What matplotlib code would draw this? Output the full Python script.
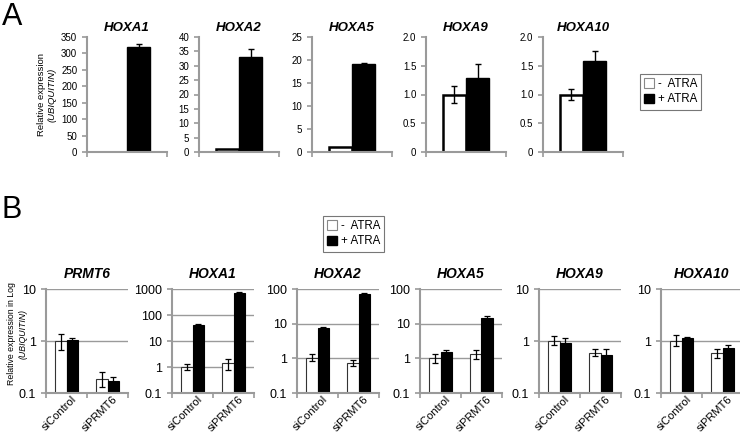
import numpy as np
import matplotlib.pyplot as plt
from matplotlib.patches import Patch
from matplotlib.ticker import FixedLocator, NullLocator

plt.rcParams['font.family'] = ['Liberation Sans', 'DejaVu Sans']

# panel A: relative expression, linear scale
genes_a = ['HOXA1', 'HOXA2', 'HOXA5', 'HOXA9', 'HOXA10']
minus_a = [1.0, 1.0, 1.0, 1.0, 1.0]
minus_a_err = [0.0, 0.0, 0.0, 0.15, 0.1]
plus_a = [321, 32.9, 19.1, 1.29, 1.58]
plus_a_err = [9, 2.8, 0.15, 0.24, 0.18]
ymax_a = [350, 40, 25, 2.0, 2.0]
ystep_a = [50, 5, 5, 0.5, 0.5]

# panel B: log scale, siControl / siPRMT6
genes_b = ['PRMT6', 'HOXA1', 'HOXA2', 'HOXA5', 'HOXA9', 'HOXA10']
conditions = ['siControl', 'siPRMT6']
minus_b = [[1.0, 0.19], [1.0, 1.39], [1.04, 0.72], [1.0, 1.33], [1.0, 0.6], [1.0, 0.58]]
minus_b_lo = [[0.67, 0.13], [0.8, 0.8], [0.84, 0.59], [0.75, 0.94], [0.84, 0.51], [0.8, 0.48]]
minus_b_hi = [[1.35, 0.25], [1.3, 2.0], [1.3, 0.88], [1.35, 1.73], [1.25, 0.69], [1.32, 0.71]]
plus_b = [[1.06, 0.17], [41, 720], [7.3, 71], [1.55, 14.8], [0.92, 0.55], [1.13, 0.74]]
plus_b_lo = [[0.98, 0.15], [38, 690], [6.5, 65], [1.38, 13.3], [0.78, 0.44], [1.05, 0.66]]
plus_b_hi = [[1.16, 0.2], [44, 750], [8.2, 78], [1.75, 16.5], [1.13, 0.69], [1.2, 0.83]]
ymax_b = [10, 1000, 100, 100, 10, 10]

W, H = 740, 434
fig = plt.figure(figsize=(W / 100, H / 100), dpi=100)
GRAY = '#9a9a9a'


def add_ax(left, top, w, h):
    return fig.add_axes([left / W, 1 - (top + h) / H, w / W, h / H])


def style(ax):
    for s in ['top', 'right']:
        ax.spines[s].set_visible(False)
    for s in ['left', 'bottom']:
        ax.spines[s].set_color(GRAY)
        ax.spines[s].set_linewidth(1.5)
    ax.tick_params(color=GRAY, width=1.2, length=3.5, direction='out')


def fmt_a(v):
    if v == 0:
        return '0'
    return f'{v:.1f}' if v < 5 else f'{v:g}'


# ---- panel A ----
lefts_a = [87, 199, 312, 426, 543]
bw = 0.29
for i, g in enumerate(genes_a):
    ax = add_ax(lefts_a[i], 37, 80, 115)
    style(ax)
    ax.bar(0.5 - bw / 2, minus_a[i], bw, color='white', edgecolor='black', lw=1.8,
           yerr=minus_a_err[i] if minus_a_err[i] else None,
           error_kw=dict(ecolor='black', elinewidth=1, capsize=2.5, capthick=1))
    ax.bar(0.5 + bw / 2, plus_a[i], bw, color='black', edgecolor='black', lw=1,
           yerr=plus_a_err[i],
           error_kw=dict(ecolor='black', elinewidth=1, capsize=2.5, capthick=1))
    ax.set_xlim(0, 1)
    ax.set_ylim(0, ymax_a[i])
    ticks = np.arange(0, ymax_a[i] + ystep_a[i] / 2, ystep_a[i])
    ax.yaxis.set_major_locator(FixedLocator(ticks))
    ax.set_yticklabels([fmt_a(t) for t in ticks], fontsize=7)
    ax.xaxis.set_major_locator(FixedLocator([0, 1]))
    ax.set_xticklabels([])
    ax.set_title(g, fontsize=9.5, fontweight='bold', fontstyle='italic', pad=4)

fig.text(2 / W, 1 - 2 / H, 'A', fontsize=22, va='top', ha='left')
fig.text(41 / W, 1 - 95 / H, 'Relative expression', rotation=90, fontsize=6.8,
         ha='center', va='center')
fig.text(52 / W, 1 - 95 / H, '(UBIQUITIN)', rotation=90, fontsize=6.8,
         ha='center', va='center', fontstyle='italic')

handles = [Patch(facecolor='white', edgecolor='#888888', lw=0.8),
           Patch(facecolor='black', edgecolor='black')]
leg_kw = dict(loc='upper left', frameon=True, fancybox=False, fontsize=8.3,
              borderpad=0.35, handlelength=0.9, handleheight=0.9,
              handletextpad=0.3, labelspacing=0.3, borderaxespad=0)
lg = fig.legend(handles, ['-  ATRA', '+ ATRA'],
                bbox_to_anchor=(640 / W, 1 - 74 / H), **leg_kw)
lg.get_frame().set_edgecolor('#555555')
lg.get_frame().set_linewidth(0.8)

# ---- panel B ----
lefts_b = [46, 172, 297, 420, 539, 661]
x = np.arange(len(conditions)) + 0.5
for i, g in enumerate(genes_b):
    ax = add_ax(lefts_b[i], 289, 82, 104)
    style(ax)
    ax.set_yscale('log')
    ax.set_ylim(0.1, ymax_b[i])
    ax.set_xlim(0, 2)
    decades = [10.0 ** k for k in range(-1, int(np.log10(ymax_b[i])) + 1)]
    ax.yaxis.set_major_locator(FixedLocator(decades))
    ax.yaxis.set_minor_locator(NullLocator())
    ax.set_yticklabels([f'{d:g}' for d in decades], fontsize=9)
    ax.grid(axis='y', color=GRAY, lw=1)
    ax.set_axisbelow(True)
    m = np.array(minus_b[i])
    p = np.array(plus_b[i])
    m_err = [m - np.array(minus_b_lo[i]), np.array(minus_b_hi[i]) - m]
    p_err = [p - np.array(plus_b_lo[i]), np.array(plus_b_hi[i]) - p]
    ekw = dict(ecolor='black', elinewidth=0.9, capsize=2.2, capthick=0.9)
    ax.bar(x - bw / 2, m, bw, color='white', edgecolor='#333333', lw=0.8,
           yerr=m_err, error_kw=ekw)
    ax.bar(x + bw / 2, p, bw, color='black', edgecolor='black', lw=0.8,
           yerr=p_err, error_kw=ekw)
    ax.xaxis.set_major_locator(FixedLocator([0, 1, 2]))
    ax.set_xticklabels([])
    for xi, c in zip(x, conditions):
        ax.annotate(c, (xi, 0), xycoords=('data', 'axes fraction'),
                    xytext=(6, -3.5), textcoords='offset points',
                    rotation=45, ha='right', va='center', rotation_mode='anchor',
                    fontsize=8)
    ax.set_title(g, fontsize=10, fontweight='bold', fontstyle='italic', pad=8)

fig.text(2 / W, 1 - 195 / H, 'B', fontsize=22, va='top', ha='left')
fig.text(12 / W, 1 - 334 / H, 'Relative expression in Log', rotation=90,
         fontsize=6.3, ha='center', va='center')
fig.text(23 / W, 1 - 334 / H, '(UBIQUITIN)', rotation=90, fontsize=6.3,
         ha='center', va='center', fontstyle='italic')

lg2 = fig.legend(handles, ['-  ATRA', '+ ATRA'],
                 bbox_to_anchor=(323 / W, 1 - 216 / H), **leg_kw)
lg2.get_frame().set_edgecolor('#555555')
lg2.get_frame().set_linewidth(0.8)

fig.savefig('out.png', dpi=100)
